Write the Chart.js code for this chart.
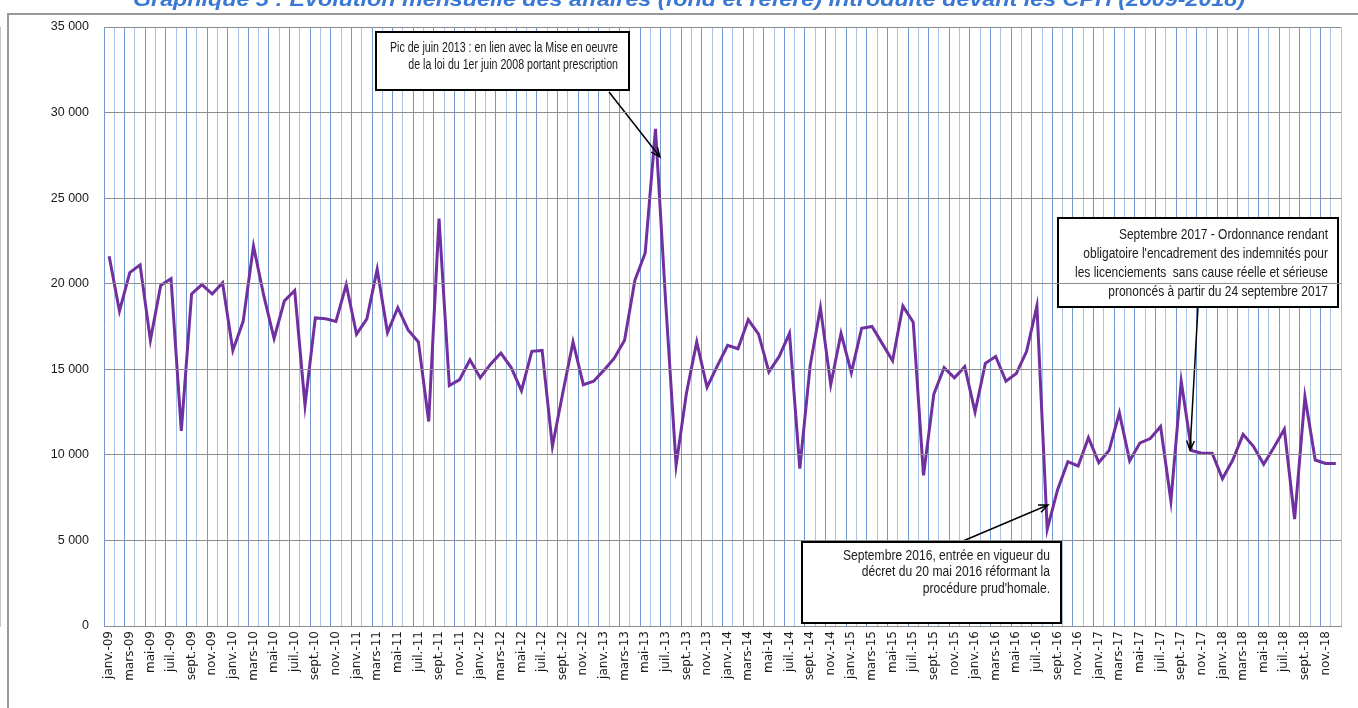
<!DOCTYPE html>
<html>
<head>
<meta charset="utf-8">
<script src="https://cdn.jsdelivr.net/npm/chart.js@4.4.0/dist/chart.umd.min.js"></script>
<style>
  html, body { margin: 0; padding: 0; background: #ffffff; }
  #wrap { width: 1358px; height: 708px; position: relative; }
</style>
</head>
<body>
<div id="wrap"><canvas id="c"></canvas></div>
<script>
// ---- Data ----
const monthNames = ['janv.', 'févr.', 'mars', 'avr.', 'mai', 'juin', 'juil.', 'août', 'sept.', 'oct.', 'nov.', 'déc.'];
const years = ['09', '10', '11', '12', '13', '14', '15', '16', '17', '18'];
const categories = [];
years.forEach(y => monthNames.forEach(m => categories.push(m + '-' + y)));

const values2009 = [21600, 18400, 20650, 21100, 16700, 19900, 20300, 11400, 19400, 19950, 19400, 20050];
const values2010 = [16100, 17800, 22200, 19300, 16800, 19000, 19600, 12900, 18000, 17950, 17800, 19950];
const values2011 = [17050, 17950, 20850, 17150, 18600, 17300, 16600, 11950, 23800, 14050, 14400, 15550];
const values2012 = [14500, 15300, 15950, 15100, 13750, 16050, 16100, 10500, 13600, 16600, 14100, 14300];
const values2013 = [14950, 15650, 16700, 20200, 21800, 29050, 18800, 9400, 13600, 16600, 13950, 15200];
const values2014 = [16400, 16200, 17900, 17050, 14850, 15750, 17100, 9200, 15200, 18600, 14100, 17100];
const values2015 = [14800, 17400, 17500, 16500, 15500, 18700, 17750, 8800, 13550, 15100, 14500, 15150];
const values2016 = [12500, 15350, 15750, 14300, 14750, 16050, 18700, 5650, 7950, 9600, 9350, 11000];
const values2017 = [9550, 10250, 12450, 9650, 10700, 10950, 11650, 7300, 14300, 10250, 10100, 10100];
const values2018 = [8600, 9700, 11200, 10500, 9450, 10450, 11500, 6250, 13400, 9700, 9500, 9500];
const affaires = [].concat(values2009, values2010, values2011, values2012, values2013,
                           values2014, values2015, values2016, values2017, values2018);

const yTicks = [0, 5000, 10000, 15000, 20000, 25000, 30000, 35000];

const titleText = 'Graphique 5 : Évolution mensuelle des affaires (fond et référé) introduite devant les CPH (2009-2018)';

const annotations = [
  { box: [376, 32, 253, 58], lines: ['Pic de juin 2013 : en lien avec la Mise en oeuvre', 'de la loi du 1er juin 2008 portant prescription'],
    textRight: 618, firstY: 48, lineH: 17, textW: 228, arrow: [609, 92, 660, 157] },
  { box: [1058, 218, 280, 89], lines: ['Septembre 2017 - Ordonnance rendant', "obligatoire l'encadrement des indemnités pour", 'les licenciements  sans cause réelle et sérieuse', 'prononcés à partir du 24 septembre 2017'],
    textRight: 1328, firstY: 235, lineH: 19, textW: 253, arrow: [1198, 307, 1190, 450] },
  { box: [802, 542, 259, 81], lines: ['Septembre 2016, entrée en vigueur du', 'décret du 20 mai 2016 réformant la', "procédure prud'homale."],
    textRight: 1050, firstY: 556, lineH: 16.5, textW: 207, arrow: [963, 541, 1048, 505] }
];

function fmt(v) { return String(v).replace(/\B(?=(\d{3})+(?!\d))/g, ' '); }

const decorPlugin = {
  id: 'decor',
  beforeDraw(chart) {
    const ctx = chart.ctx;
    ctx.save();
    ctx.fillStyle = '#ffffff';
    ctx.fillRect(0, 0, chart.width, chart.height);
    // frame
    ctx.strokeStyle = '#9a9a9a';
    ctx.lineWidth = 2;
    ctx.beginPath();
    ctx.moveTo(8, 708);
    ctx.lineTo(8, 14);
    ctx.lineTo(1358, 14);
    ctx.stroke();
    // cropped title
    ctx.font = 'italic bold 20px "Liberation Sans"';
    const w = ctx.measureText(titleText).width;
    const sx = 1112 / w;
    ctx.translate(689, 6);
    ctx.scale(sx, 1);
    ctx.fillStyle = '#3B78D4';
    ctx.textAlign = 'center';
    ctx.textBaseline = 'alphabetic';
    ctx.fillText(titleText, 0, 0);
    ctx.restore();
  },
  afterDatasetsDraw(chart) {
    const ctx = chart.ctx;
    ctx.save();
    annotations.forEach(a => {
      // arrow
      const [x1, y1, x2, y2] = a.arrow;
      ctx.strokeStyle = '#000';
      ctx.lineWidth = 1.5;
      ctx.beginPath();
      ctx.moveTo(x1, y1);
      ctx.lineTo(x2, y2);
      const ang = Math.atan2(y2 - y1, x2 - x1);
      const hl = 10;
      ctx.moveTo(x2 - hl * Math.cos(ang - 0.4), y2 - hl * Math.sin(ang - 0.4));
      ctx.lineTo(x2, y2);
      ctx.lineTo(x2 - hl * Math.cos(ang + 0.4), y2 - hl * Math.sin(ang + 0.4));
      ctx.stroke();
      // box
      const [bx, by, bw, bh] = a.box;
      ctx.fillStyle = '#ffffff';
      ctx.fillRect(bx, by, bw, bh);
      ctx.strokeStyle = '#000';
      ctx.lineWidth = 2;
      ctx.strokeRect(bx, by, bw, bh);
      // text
      ctx.font = '14px "Liberation Sans"';
      ctx.fillStyle = '#1a1a1a';
      ctx.textBaseline = 'middle';
      ctx.textAlign = 'right';
      const longest = Math.max(...a.lines.map(l => ctx.measureText(l).width));
      const sx = a.textW / longest;
      a.lines.forEach((l, i) => {
        ctx.save();
        ctx.translate(a.textRight, a.firstY + i * a.lineH);
        ctx.scale(sx, 1);
        ctx.fillText(l, 0, 0);
        ctx.restore();
      });
    });
    ctx.restore();
  }
};

new Chart(document.getElementById('c'), {
  type: 'line',
  data: {
    labels: categories,
    datasets: [{
      data: affaires,
      borderColor: '#7030A0',
      borderWidth: 3,
      pointRadius: 0,
      pointHoverRadius: 0,
      tension: 0,
      fill: false
    }]
  },
  options: {
    responsive: true,
    maintainAspectRatio: false,
    animation: false,
    events: [],
    layout: { padding: { left: 10, right: 17, top: 27, bottom: 0 } },
    plugins: { legend: { display: false }, tooltip: { enabled: false }, title: { display: false } },
    scales: {
      x: {
        type: 'category',
        offset: true,
        grid: {
          offset: true,
          color: c => (c.index % 2 === 0 ? '#6f98cf' : '#a9c3e4'),
          lineWidth: 1,
          drawTicks: false
        },
        border: { display: true, color: '#8c8c8c', width: 1 },
        ticks: {
          autoSkip: false,
          minRotation: 90,
          maxRotation: 90,
          padding: 5,
          color: '#1a1a1a',
          font: { family: '"DejaVu Sans"', size: 12 },
          callback: function (val, idx) { return idx % 2 === 0 ? this.getLabelForValue(val) : ''; }
        },
        afterFit: s => { s.height = 82; }
      },
      y: {
        min: 0,
        max: 35000,
        grid: { color: '#8c8c8c', lineWidth: 1, drawTicks: false, z: 1 },
        border: { display: true, color: '#8c8c8c', width: 1 },
        afterBuildTicks: s => { s.ticks = yTicks.map(v => ({ value: v })); },
        ticks: {
          padding: 15,
          color: '#1a1a1a',
          font: { family: '"Liberation Sans"', size: 12.5 },
          callback: v => fmt(v)
        },
        afterFit: s => { s.width = 94; }
      }
    }
  },
  plugins: [decorPlugin]
});
</script>
</body>
</html>
